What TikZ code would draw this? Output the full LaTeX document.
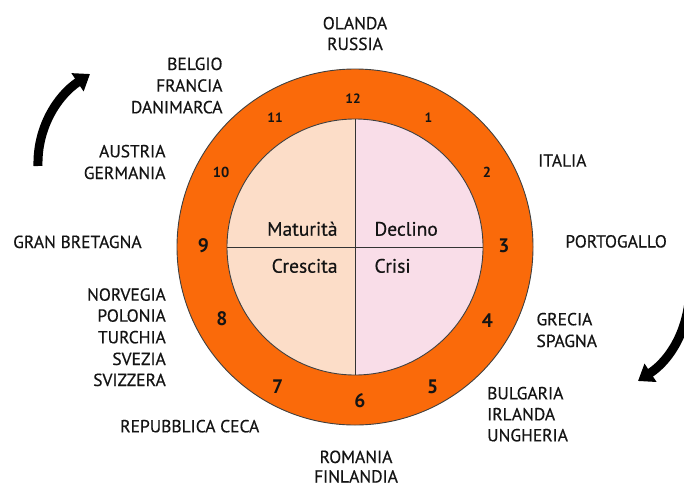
\documentclass[tikz,border=0pt]{standalone}
\usepackage{fontspec}
\setmainfont{PT Sans}
\newfontfamily\labfont[FakeBold=0.5]{PT Sans}
\usetikzlibrary{arrows.meta}
\definecolor{ring}{RGB}{250,106,10}
\definecolor{peach}{RGB}{252,221,200}
\definecolor{pinkq}{RGB}{249,221,232}
\definecolor{ink}{RGB}{20,20,20}
\begin{document}
\begin{tikzpicture}[x=1pt,y=-1pt,
  lab/.style={font=\labfont\fontsize{17.5}{21}\selectfont, inner sep=0pt, text=ink},
  num/.style={font=\bfseries\fontsize{#1}{#1}\selectfont, inner sep=0pt, text=ink},
  quad/.style={font=\labfont\fontsize{19.5}{22}\selectfont, inner sep=0pt, text=ink},
  bigarrow/.style={line width=9pt, -{Triangle[length=15pt,width=21pt]}}]
\useasboundingbox (0,0) rectangle (684,487);
\clip (0,0) rectangle (684,487);
% rings
\node[circle, minimum size=356pt, inner sep=0pt, outer sep=0pt, fill=ring, draw=black!75, line width=0.9pt] (outer) at (355,247) {};
\node[circle, minimum size=256pt, inner sep=0pt, outer sep=0pt, draw=black!75, line width=0.9pt,
  path picture={
    \fill[peach] (path picture bounding box.north west) rectangle (path picture bounding box.south);
    \fill[pinkq] (path picture bounding box.north) rectangle (path picture bounding box.south east);
  }] (inner) at (355,247) {};
\draw[black!80, line width=0.8pt] (inner.north) -- (inner.south);
\draw[black!80, line width=0.8pt] (inner.west) -- (inner.east);
% quadrant words
\node[quad, anchor=base east] (mat) at (337.7,235.7) {Maturità};
\node[quad, anchor=base west] (dec) at (374.3,235.7) {Declino};
\node[quad, anchor=base east] (cre) at (337.7,272.7) {Crescita};
\node[quad, anchor=base west] (cri) at (374.3,272.7) {Crisi};
% clock numbers
\node[num=13.5, anchor=base] (n12) at (353,103.3) {12};
\node[num=13.5, anchor=base] (n11) at (275,122.7) {11};
\node[num=13.5, anchor=base] (n1) at (428.5,122.7) {1};
\node[num=14.5, anchor=base] (n10) at (221,177.3) {10};
\node[num=14.5, anchor=base] (n2) at (487,177.3) {2};
\node[num=19.5, anchor=base] (n9) at (203.5,252.7) {9};
\node[num=19.5, anchor=base] (n3) at (504,252.7) {3};
\node[num=19.5, anchor=base] (n8) at (222,325) {8};
\node[num=19.5, anchor=base] (n4) at (487.5,327.3) {4};
\node[num=19.5, anchor=base] (n7) at (277.7,393.3) {7};
\node[num=19.5, anchor=base] (n5) at (432.7,393.3) {5};
\node[num=19.5, anchor=base] (n6) at (360,407.3) {6};
% country labels
\node[lab, anchor=base] (olanda) at (355,29.3) {OLANDA};
\node[lab, anchor=base] (russia) at (355,50) {RUSSIA};
\node[lab, anchor=base east] (belgio) at (222.7,70) {BELGIO};
\node[lab, anchor=base east] (francia) at (222.7,91.7) {FRANCIA};
\node[lab, anchor=base east] (danimarca) at (222.7,113.3) {DANIMARCA};
\node[lab, anchor=base east] (austria) at (165.7,157.3) {AUSTRIA};
\node[lab, anchor=base east] (germania) at (165.7,179) {GERMANIA};
\node[lab, anchor=base west] (gb) at (13,248) {GRAN BRETAGNA};
\node[lab, anchor=base east] (norvegia) at (166,300.7) {NORVEGIA};
\node[lab, anchor=base east] (polonia) at (166,321.7) {POLONIA};
\node[lab, anchor=base east] (turchia) at (166,343.3) {TURCHIA};
\node[lab, anchor=base east] (svezia) at (166,365) {SVEZIA};
\node[lab, anchor=base east] (svizzera) at (166,386) {SVIZZERA};
\node[lab, anchor=base west] (rep) at (120,432.3) {REPUBBLICA CECA};
\node[lab, anchor=base] (romania) at (356,463) {ROMANIA};
\node[lab, anchor=base] (finlandia) at (356,482.5) {FINLANDIA};
\node[lab, anchor=base west] (bulgaria) at (487,399.3) {BULGARIA};
\node[lab, anchor=base west] (irlanda) at (487,420.3) {IRLANDA};
\node[lab, anchor=base west] (ungheria) at (487,441.3) {UNGHERIA};
\node[lab, anchor=base west] (grecia) at (536.3,325.3) {GRECIA};
\node[lab, anchor=base west] (spagna) at (536.3,347) {SPAGNA};
\node[lab, anchor=base east] (portogallo) at (667,247.5) {PORTOGALLO};
\node[lab, anchor=base west] (italia) at (538,166.7) {ITALIA};
% arrows
\coordinate (a1s) at (38,166);
\coordinate (a1e) at (90,74);
\coordinate (a2s) at (690,288);
\coordinate (a2e) at (638,381);
\draw[bigarrow] (a1s) .. controls (37,128) and (57,96) .. (a1e);
\draw[bigarrow] (a2s) .. controls (689,330) and (670,360) .. (a2e);
\end{tikzpicture}
\end{document}
